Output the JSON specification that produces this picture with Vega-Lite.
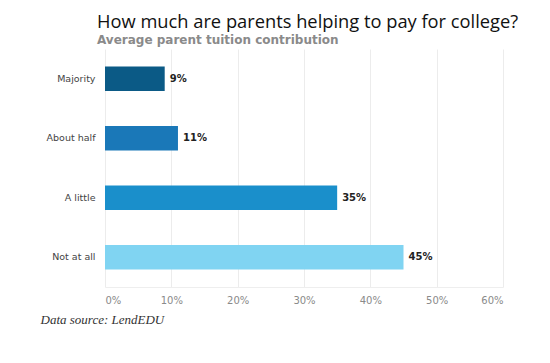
{
  "$schema": "https://vega.github.io/schema/vega-lite/v6.json",
  "width": 398,
  "height": 238,
  "autosize": "none",
  "padding": {"left": 105, "top": 49, "right": 47, "bottom": 76},
  "background": "white",
  "config": {"view": {"stroke": null}},
  "title": {
    "text": "How much are parents helping to pay for college?",
    "subtitle": "Average parent tuition contribution",
    "anchor": "start",
    "frame": "group",
    "dx": -8,
    "offset": 2,
    "font": "Open Sans",
    "fontSize": 18.3,
    "fontWeight": "normal",
    "color": "#111111",
    "subtitleFont": "DejaVu Sans",
    "subtitleFontSize": 12,
    "subtitleFontWeight": "bold",
    "subtitleColor": "#8a8a8a",
    "subtitlePadding": 3
  },
  "data": {
    "values": [
      {"category": "Majority", "share": 0.09},
      {"category": "About half", "share": 0.11},
      {"category": "A little", "share": 0.35},
      {"category": "Not at all", "share": 0.45}
    ]
  },
  "encoding": {
    "y": {
      "field": "category",
      "type": "nominal",
      "sort": ["Majority", "About half", "A little", "Not at all"],
      "scale": {"paddingInner": 0.59, "paddingOuter": 0.295},
      "axis": {
        "title": null,
        "ticks": false,
        "domain": false,
        "labelPadding": 10,
        "labelFont": "DejaVu Sans",
        "labelFontSize": 9.5,
        "labelColor": "#444444"
      }
    },
    "x": {
      "field": "share",
      "type": "quantitative",
      "scale": {"domain": [0, 0.6]},
      "axis": {
        "values": [0, 0.1, 0.2, 0.3, 0.4, 0.5, 0.6],
        "format": ".0%",
        "ticks": false,
        "domain": true,
        "domainColor": "#eeeeee",
        "gridColor": "#ececec",
        "labelPadding": 8,
        "labelFont": "DejaVu Sans",
        "labelFontSize": 10,
        "labelColor": "#8a8a8a",
        "title": "Data source: LendEDU",
        "titleAnchor": "start",
        "titleX": -65,
        "titleY": 26,
        "titleFont": "Liberation Serif",
        "titleFontStyle": "italic",
        "titleFontWeight": "normal",
        "titleFontSize": 13,
        "titleColor": "#333333"
      }
    }
  },
  "layer": [
    {
      "mark": {"type": "bar"},
      "encoding": {
        "color": {
          "field": "category",
          "type": "nominal",
          "scale": {
            "domain": ["Majority", "About half", "A little", "Not at all"],
            "range": ["#0b5a86", "#1a78b8", "#1a8fcb", "#80d4f2"]
          },
          "legend": null
        }
      }
    },
    {
      "mark": {"type": "text", "align": "left", "dx": 5, "font": "DejaVu Sans", "fontSize": 10, "fontWeight": "bold", "color": "#222222"},
      "encoding": {
        "text": {"field": "share", "type": "quantitative", "format": ".0%"}
      }
    }
  ]
}
